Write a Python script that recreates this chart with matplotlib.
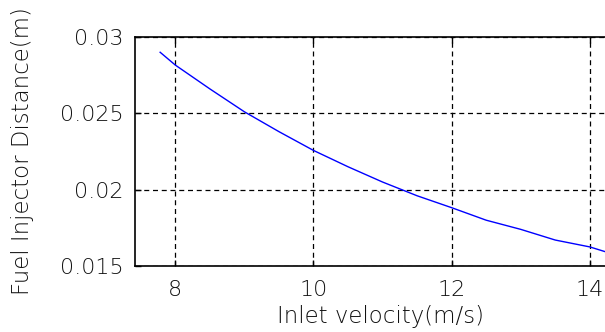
import matplotlib.pyplot as plt

# velocity (m/s) and injector distance (m)
velocity = [7.78, 8.0, 8.5, 9.0, 9.5, 10.0, 10.5, 11.0, 11.5, 12.0, 12.5, 13.0, 13.5, 14.0, 14.25]
distance = [0.0290, 0.02816, 0.0266, 0.0251, 0.0238, 0.02257, 0.0215, 0.0205, 0.0196, 0.01882,
            0.0180, 0.0174, 0.0167, 0.01625, 0.0159]
xticks = [8, 10, 12, 14]
yticks = [0.015, 0.02, 0.025, 0.03]
yticklabels = ["0.015", "0.02", "0.025", "0.03"]

plt.rcParams['font.family'] = ['DejaVu Sans']
plt.rcParams['font.weight'] = 'light'
txt = '#111111'

fig = plt.figure(figsize=(6.05, 3.32), dpi=100)
ax = fig.add_axes([135 / 605, 66 / 332, 470 / 605, 229 / 332])
ax.plot(velocity, distance, color=(0, 0, 1), lw=1.0)

ax.set_xlim(7.416, 14.22)
ax.set_ylim(0.015, 0.03)
ax.set_xticks(xticks)
ax.set_xticklabels([str(t) for t in xticks])
ax.set_yticks(yticks)
ax.set_yticklabels(yticklabels)
ax.grid(True, color='black', linestyle=(0, (4, 3)), lw=0.9)
ax.tick_params(direction='in', length=4, width=1, labelsize=16, colors='black',
               labelcolor=txt, top=True)
ax.tick_params(axis='x', pad=10)
ax.tick_params(axis='y', pad=8)
ax.spines['right'].set_visible(False)
for s in ['left', 'top', 'bottom']:
    ax.spines[s].set_linewidth(1.2)

ax.set_xlabel("Inlet velocity(m/s)", fontsize=16.5, color=txt, fontweight='light')
ax.set_ylabel("Fuel Injector Distance(m)", fontsize=16.5, color=txt, fontweight='light')
ax.xaxis.set_label_coords(0.523, -0.17)
ax.yaxis.set_label_coords(-0.215, 0.5)

fig.savefig("out.png", dpi=100)
